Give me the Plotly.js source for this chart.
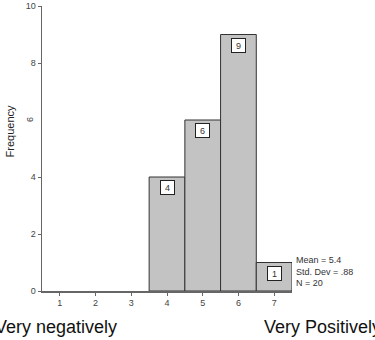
<!DOCTYPE html>
<html>
<head>
<meta charset="utf-8">
<script src="https://cdn.plot.ly/plotly-3.0.1.min.js"></script>
<style>
  html, body { margin: 0; padding: 0; background: #fff; overflow: hidden; }
  #chart { width: 375px; height: 340px; }
</style>
</head>
<body>
<div id="chart"></div>
<script>
// Histogram of ratings (1 = very negatively, 7 = very positively)
const ratings = [4, 5, 6, 7];
const counts = [4, 6, 9, 1];
const xTicks = [1, 2, 3, 4, 5, 6, 7];
const yTicks = [0, 2, 4, 8, 10];
const rotatedTick = 6;
const statsLines = ['Mean = 5.4', 'Std. Dev = .88', 'N = 20'];
const leftLabel = 'Very negatively';
const rightLabel = 'Very Positively';

const FONT = 'Liberation Sans, Arial, sans-serif';
const tickFont = { family: FONT, size: 9, color: '#444' };

const bars = {
  type: 'bar',
  x: ratings,
  y: counts,
  width: 1,
  marker: { color: '#c3c3c3', line: { color: '#333', width: 1 } },
  hoverinfo: 'skip'
};

// boxed count labels sitting just under each bar top
const countLabels = ratings.map((r, i) => ({
  x: r, y: counts[i], xref: 'x', yref: 'y',
  text: String(counts[i]), showarrow: false,
  yanchor: 'top', yshift: -3,
  width: 11, height: 11, borderpad: 1,
  bgcolor: '#fff', bordercolor: '#222', borderwidth: 1,
  font: { family: FONT, size: 9, color: '#333' }
}));

const statsNote = {
  xref: 'paper', yref: 'y', x: 1, y: 0.68, xanchor: 'left', yanchor: 'middle',
  xshift: 2, align: 'left', showarrow: false,
  text: statsLines.join('<br>'),
  font: { family: FONT, size: 9, color: '#333' }
};

const sixLabel = {
  xref: 'paper', yref: 'y', x: 0, y: rotatedTick, xanchor: 'right',
  xshift: -5, textangle: -90, showarrow: false, text: String(rotatedTick),
  font: tickFont
};

const yTitle = {
  xref: 'paper', yref: 'y', x: 0, y: 5.6, xanchor: 'center', xshift: -32,
  textangle: -90, showarrow: false, text: 'Frequency',
  font: { family: FONT, size: 11, color: '#222' }
};

// end-of-scale captions, allowed to run past the page edges
const endFont = { family: FONT, size: 18, color: '#111' };
const endLabels = [
  { xref: 'paper', yref: 'paper', x: 0, xshift: -49, y: -0.126, xanchor: 'left', yanchor: 'middle',
    showarrow: false, text: leftLabel, font: endFont },
  { xref: 'paper', yref: 'paper', x: 0, xshift: 220, y: -0.126, xanchor: 'left', yanchor: 'middle',
    showarrow: false, text: rightLabel, font: endFont }
];

const layout = {
  width: 375, height: 340,
  margin: { l: 42, r: 83, t: 6, b: 49 },
  paper_bgcolor: '#fff', plot_bgcolor: '#fff',
  showlegend: false,
  bargap: 0,
  xaxis: {
    range: [0.5, 7.5], tickvals: xTicks, ticks: 'outside', ticklen: 3,
    tickcolor: '#666', showline: true, linecolor: '#666', linewidth: 1.5,
    showgrid: false, zeroline: false, tickfont: tickFont, fixedrange: true
  },
  yaxis: {
    range: [0, 10], tickvals: yTicks, ticks: 'outside', ticklen: 3,
    tickcolor: '#666', showline: true, linecolor: '#666', linewidth: 1.5,
    showgrid: false, zeroline: false, tickfont: tickFont, fixedrange: true
  },
  annotations: countLabels.concat([statsNote, sixLabel, yTitle], endLabels)
};

Plotly.newPlot('chart', [bars], layout, { displayModeBar: false, staticPlot: true });
</script>
</body>
</html>
